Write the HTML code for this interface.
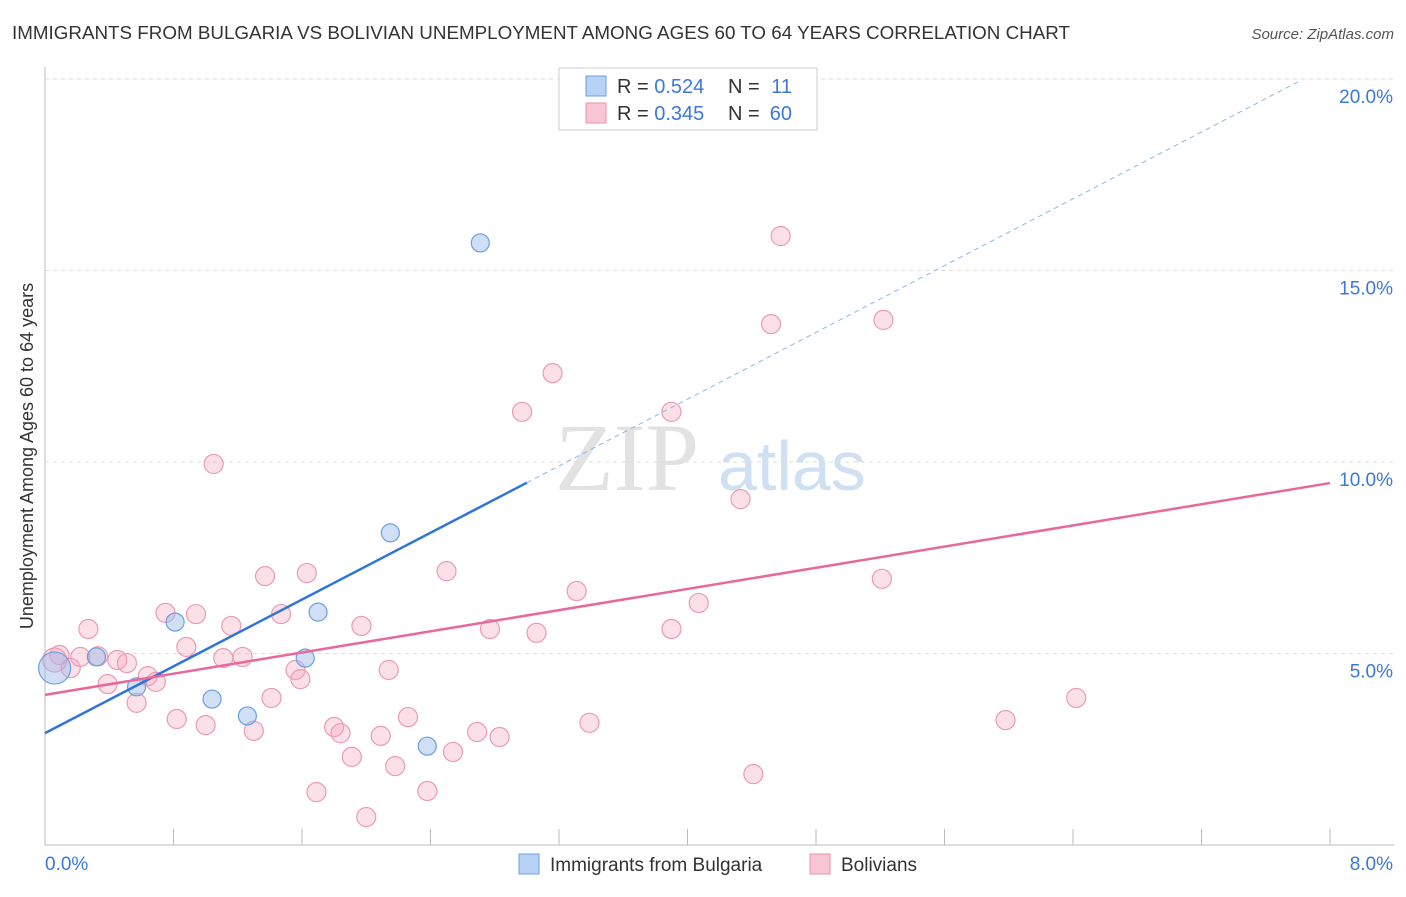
<!DOCTYPE html>
<html><head><meta charset="utf-8"><style>
body{margin:0;background:#fff;font-family:"Liberation Sans",sans-serif}
svg text{font-family:"Liberation Sans",sans-serif}
</style></head><body>
<svg id="c" width="1406" height="892">
<text x="12" y="39" font-size="18" fill="#333" textLength="1058" lengthAdjust="spacingAndGlyphs">IMMIGRANTS FROM BULGARIA VS BOLIVIAN UNEMPLOYMENT AMONG AGES 60 TO 64 YEARS CORRELATION CHART</text>
<text x="1394" y="39" font-size="15" fill="#555" font-style="italic" text-anchor="end">Source: ZipAtlas.com</text>
<text x="33" y="456" font-size="18" fill="#333" text-anchor="middle" transform="rotate(-90 33 456)">Unemployment Among Ages 60 to 64 years</text>
<text x="555" y="490" font-size="96" fill="#e2e2e2" style="font-family:'Liberation Serif',serif">ZIP</text>
<text x="718" y="490" font-size="70" fill="#d0e0f3">atlas</text>
<g id="grid"></g><g id="marks"></g>
<g>
<rect x="559" y="68" width="258" height="62" fill="#fff" stroke="#ccc"/>
<rect x="586" y="76" width="20" height="20" fill="#b8d2f5" stroke="#6a9fe0"/>
<rect x="586" y="103" width="20" height="20" fill="#f9c6d6" stroke="#e890ad"/>
<text x="617" y="93" font-size="20" fill="#333">R = <tspan fill="#3b78d8">0.524</tspan></text>
<text x="728" y="93" font-size="20" fill="#333">N =</text>
<text x="792" y="93" font-size="20" fill="#3b78d8" text-anchor="end">11</text>
<text x="617" y="120" font-size="20" fill="#333">R = <tspan fill="#3b78d8">0.345</tspan></text>
<text x="728" y="120" font-size="20" fill="#333">N =</text>
<text x="792" y="120" font-size="20" fill="#3b78d8" text-anchor="end">60</text>
</g>
<g>
<rect x="519" y="854" width="20" height="20" fill="#b8d2f5" stroke="#6a9fe0"/>
<text x="550" y="871" font-size="19" fill="#333">Immigrants from Bulgaria</text>
<rect x="810" y="854" width="20" height="20" fill="#f9c6d6" stroke="#e890ad"/>
<text x="841" y="871" font-size="19" fill="#333">Bolivians</text>
</g>
</svg>
<script>
const blueX=[0.06,0.32,0.57,0.81,1.04,1.26,1.62,1.70,2.15,2.38,2.71];
const blueY=[4.62,4.91,4.13,5.82,3.81,3.37,4.88,6.08,8.15,2.58,15.72];
const pinkX=[0.09,0.16,0.27,0.22,0.33,0.39,0.45,0.51,0.57,0.64,0.69,0.75,0.82,0.88,0.94,1.00,1.05,1.11,1.16,1.23,1.30,1.37,1.41,1.47,1.56,1.59,1.63,1.80,1.84,1.91,1.97,2.09,2.14,2.18,2.26,2.38,2.50,2.54,2.69,2.77,2.83,1.69,2.00,2.97,3.06,3.16,3.31,3.39,3.90,3.90,4.07,4.33,4.41,4.52,4.58,5.21,5.22,5.98,6.42,0.06];
const pinkY=[4.96,4.62,5.64,4.91,4.93,4.20,4.83,4.75,3.71,4.41,4.26,6.06,3.29,5.17,6.03,3.13,9.95,4.88,5.72,4.91,2.98,7.02,3.84,6.03,4.57,4.33,7.10,3.08,2.92,2.30,5.72,2.85,4.57,2.06,3.34,1.41,7.15,2.43,2.95,5.64,2.82,1.38,0.73,11.31,5.54,12.32,6.63,3.19,11.31,5.64,6.32,9.03,1.85,13.60,15.90,6.95,13.71,3.26,3.84,4.83];
const yTicks=[5,10,15,20];
const xTickLabels=["0.0%","8.0%"];
const blueLine=[2.92,2.18];   // intercept, slope
const pinkLine=[3.92,9.45];   // y at x=0, y at x=8
const X=v=>45+v/8*1285, Y=v=>845-v*38.3;
const NS="http://www.w3.org/2000/svg";
function mk(t,a,p){const e=document.createElementNS(NS,t);for(const k in a)e.setAttribute(k,a[k]);p.appendChild(e);return e;}
const g=document.getElementById('grid'), m=document.getElementById('marks');
let ax=mk('line',{x1:45,y1:67,x2:45,y2:845,stroke:'#bbb'},g);


let bx=mk('line',{x1:45,y1:845,x2:1394,y2:845,stroke:'#bbb'},g);


yTicks.forEach(t=>{
 let l=mk('line',{x1:45,x2:1394,y1:Y(t),y2:Y(t),stroke:'#ddd','stroke-dasharray':'4,4'},g);
 
 
 let tx=mk('text',{x:1393,y:Y(t)+24,'font-size':19,fill:'#3b78d8','text-anchor':'end'},g);tx.textContent=t.toFixed(1)+'%';
 
 
});
for(let i=1;i<=10;i++){let l=mk('line',{x1:X(i*0.8),x2:X(i*0.8),y1:829,y2:845,stroke:'#bbb'},g);
 
 }
let t0=mk('text',{x:45,y:870,'font-size':19,fill:'#3b78d8'},g);t0.textContent=xTickLabels[0];


let t1=mk('text',{x:1393,y:870,'font-size':19,fill:'#3b78d8','text-anchor':'end'},g);t1.textContent=xTickLabels[1];


pinkX.forEach((x,i)=>{let c=mk('circle',{cx:X(x),cy:Y(pinkY[i]),r:i==59?12:9.5,fill:'rgba(245,165,190,0.35)',stroke:'#eb9ab5','stroke-width':1.2},m);
 
 });
blueX.forEach((x,i)=>{let c=mk('circle',{cx:X(x),cy:Y(blueY[i]),r:i==0?16:9,fill:'rgba(150,185,235,0.45)',stroke:'#6a9fe0','stroke-width':1.2},m);
 
 });
const bEnd=3.0, bFar=7.8;
let bl=mk('line',{x1:X(0),y1:Y(blueLine[0]),x2:X(bEnd),y2:Y(blueLine[0]+blueLine[1]*bEnd),stroke:'#2f74d8','stroke-width':2.5},m);


let bd=mk('line',{x1:X(bEnd),y1:Y(blueLine[0]+blueLine[1]*bEnd),x2:X(bFar),y2:Y(blueLine[0]+blueLine[1]*bFar),stroke:'#8fb5ea','stroke-width':1,'stroke-dasharray':'5,4'},m);


let pl=mk('line',{x1:X(0),y1:Y(pinkLine[0]),x2:X(8),y2:Y(pinkLine[1]),stroke:'#e8689a','stroke-width':2.5},m);


</script>
</body></html>
